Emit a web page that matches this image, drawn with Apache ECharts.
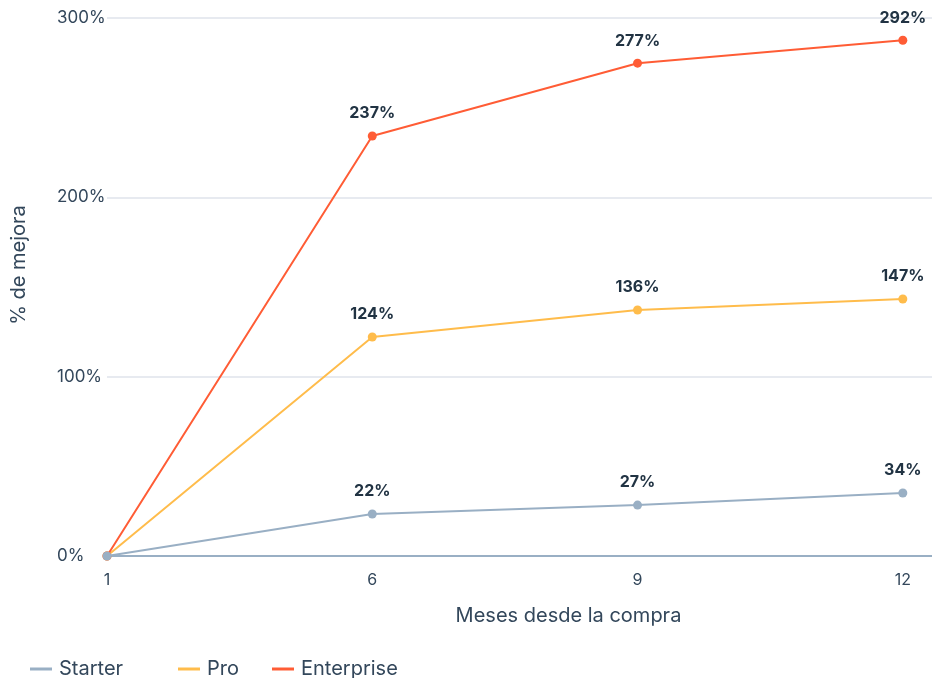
<!DOCTYPE html>
<html><head><meta charset="utf-8">
<script src="https://cdn.jsdelivr.net/npm/echarts@6/dist/echarts.min.js"></script>
<style>html,body{margin:0;padding:0;background:#fff}#c{width:932px;height:678px}</style>
</head><body><div id="c"></div>
<script>
const categories = ['1', '6', '9', '12'];
const seriesNames = ['Starter', 'Pro', 'Enterprise'];
const starterValues = [0, 23.4, 28.4, 35.1];
const proValues = [0, 122.1, 137.2, 143.3];
const enterpriseValues = [0, 234.2, 274.8, 287.6];
const starterLabels = ['', '22%', '27%', '34%'];
const proLabels = ['', '124%', '136%', '147%'];
const enterpriseLabels = ['', '237%', '277%', '292%'];
const yTicks = [0, 100, 200, 300];
const colors = ['#99afc4', '#ffbc4b', '#ff5c35'];

const font = 'Inter';
const textColor = '#33475b';

function mk(name, vals, labels, color, z) {
  return {
    name, type: 'line', z,
    data: vals.map((v, i) => [i, v]),
    symbol: 'circle', symbolSize: 9,
    lineStyle: { width: 2, color },
    itemStyle: { color },
    label: {
      show: true, position: 'top', distance: 10,
      formatter: p => labels[p.dataIndex],
      fontFamily: font, fontWeight: 'bold', fontSize: 16, color: '#213343'
    },
    emphasis: { disabled: true },
    animation: false
  };
}

const legendLefts = [30, 178, 272];
const legends = seriesNames.map((n, i) => ({
  left: legendLefts[i], top: 659, padding: 0, itemWidth: 22, itemHeight: 3, itemGap: 0,
  icon: 'rect', selectedMode: false,
  textStyle: { fontFamily: font, fontSize: 20, color: textColor, padding: [0, 0, 0, 2] },
  data: [n]
}));

const chart = echarts.init(document.getElementById('c'));
chart.setOption({
  animation: false,
  color: colors,
  grid: { left: 107, right: 0, top: 18, bottom: 122, outerBoundsMode: 'none', containLabel: false },
  legend: legends,
  xAxis: {
    type: 'value', min: 0, max: 3.11, interval: 1,
    name: 'Meses desde la compra', nameLocation: 'middle', nameGap: 50,
    nameTextStyle: { fontFamily: font, fontSize: 20, color: textColor, padding: [0, 0, 0, 98] },
    axisLine: { show: true, lineStyle: { color: '#99afc4', width: 2 } },
    axisTick: { show: false },
    splitLine: { show: false },
    axisLabel: {
      margin: 16, fontFamily: font, fontSize: 16, color: textColor,
      formatter: v => (Number.isInteger(v) && categories[v] !== undefined) ? categories[v] : '',
      showMaxLabel: false
    }
  },
  yAxis: {
    type: 'value', min: yTicks[0], max: yTicks[yTicks.length - 1], interval: 100,
    name: '% de mejora', nameLocation: 'middle', nameGap: 78,
    nameTextStyle: { fontFamily: font, fontSize: 20, color: textColor, padding: [0, 0, 0, 44] },
    axisLine: { show: false }, axisTick: { show: false },
    splitLine: { lineStyle: { color: '#dfe3eb', width: 1.5 } },
    axisLabel: { margin: 50, align: 'left', fontFamily: font, fontSize: 17, color: textColor, formatter: v => v + '%' }
  },
  series: [
    mk(seriesNames[0], starterValues, starterLabels, colors[0], 4),
    mk(seriesNames[1], proValues, proLabels, colors[1], 2),
    mk(seriesNames[2], enterpriseValues, enterpriseLabels, colors[2], 3)
  ]
});
</script></body></html>
